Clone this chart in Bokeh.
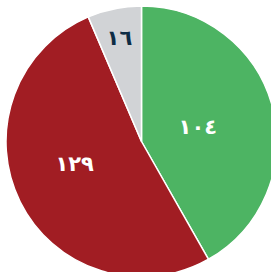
import numpy as np
from bokeh.plotting import figure
from bokeh.models import ColumnDataSource, Range1d
from bokeh.core.properties import value
from bokeh.embed import file_html
from bokeh.resources import INLINE

# data
categories = ["green", "red", "gray"]
values = [104, 129, 16]
labels = ["١٠٤", "١٢٩", "١٦"]
colors = ["#4db463", "#a11d23", "#d1d3d6"]
label_colors = ["#ffffff", "#ffffff", "#0d2c45"]

W, H = 271, 272
cx, cy, R = 141.0, 131.0, 135.5
label_rfrac = [0.43, 0.52, 0.78]
label_shift_deg = [0.0, -8.0, 0.5]

vals = np.array(values, dtype=float)
frac = vals / vals.sum()
ang = 2 * np.pi * frac
start = np.pi / 2 - np.concatenate([[0], np.cumsum(ang)[:-1]])
end = start - ang
mid = (start + end) / 2 + np.radians(label_shift_deg)
lx = cx + np.array(label_rfrac) * R * np.cos(mid)
ly = cy + np.array(label_rfrac) * R * np.sin(mid)

src = ColumnDataSource(dict(cat=categories, start=start, end=end, color=colors,
                            lx=lx, ly=ly, label=labels, lcolor=label_colors))

p = figure(width=W, height=H, output_backend="svg", toolbar_location=None,
           x_range=Range1d(0, W), y_range=Range1d(0, H), min_border=0,
           match_aspect=False)
p.axis.visible = False
p.grid.visible = False
p.outline_line_color = None
p.background_fill_color = "white"

p.wedge(x=cx, y=cy, radius=R, start_angle="start", end_angle="end",
        direction="clock", fill_color="color", line_color="white",
        line_width=1.5, source=src)
p.text(x="lx", y="ly", text="label", text_color="lcolor",
       text_font=value("DejaVu Sans"), text_font_style="bold",
       text_font_size="21px", text_align="center", text_baseline="middle",
       source=src)

open("out.html", "w").write(file_html(p, INLINE))
